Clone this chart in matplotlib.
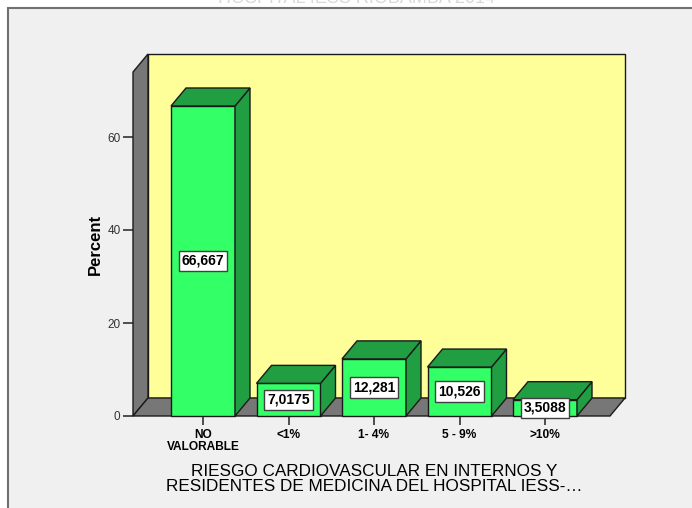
import matplotlib
matplotlib.use("Agg")
import matplotlib.pyplot as plt
from matplotlib.patches import Rectangle, Polygon

# ---- data ----
categories = ["NO\nVALORABLE", "<1%", "1- 4%", "5 - 9%", ">10%"]
percent = [66.667, 7.0175, 12.281, 10.526, 3.5088]
value_labels = ["66,667", "7,0175", "12,281", "10,526", "3,5088"]
yticks = [0, 20, 40, 60]
xlabel = "RIESGO CARDIOVASCULAR EN INTERNOS Y\nRESIDENTES DE MEDICINA DEL HOSPITAL IESS-\u2026"
ylabel = "Percent"
title = "HOSPITAL IESS RIOBAMBA 2014"

W, H = 692, 508
fig = plt.figure(figsize=(W / 100, H / 100), dpi=100)
fig.patch.set_facecolor("white")

# outer gray panel (border on left/top)
fig.patches.append(Rectangle((8 / W, -0.05), 1.1, 1.05 - 8 / H, transform=fig.transFigure,
                             facecolor="#f0f0f0", edgecolor="#707070", linewidth=1.5, zorder=-5))

fig.text(356 / W, 1 - 3 / H, title, ha="center", va="baseline", fontsize=13,
         color="#d8d8d8", family="Liberation Sans")

# front plane axes
x0p, x1p, y0p, y1p = 133, 610, 416, 72
ax = fig.add_axes([x0p / W, 1 - y0p / H, (x1p - x0p) / W, (y0p - y1p) / H])
ax.set_zorder(2)
ax.patch.set_visible(False)
for s in ax.spines.values():
    s.set_visible(False)

n = len(categories)
xpos = list(range(n))
spacing_px = 85.5
xmin = -(203 - x0p) / spacing_px
xmax = xmin + (x1p - x0p) / spacing_px
ymax = (y0p - y1p) / 4.65
ax.set_xlim(xmin, xmax)
ax.set_ylim(0, ymax)

# depth offset in data units
px_x = ax.bbox.width / (xmax - xmin)
px_y = ax.bbox.height / ymax
dx = 15 / px_x
dy = 18 / px_y

edge = "#1a1a1a"
gray = "#777777"
kw = dict(clip_on=False, linewidth=1.0, edgecolor=edge, joinstyle="miter")

# back wall
ax.add_patch(Rectangle((xmin + dx, dy), xmax - xmin, ymax, facecolor="#ffff99", zorder=1, **kw))
# left wall
ax.add_patch(Polygon([(xmin, 0), (xmin, ymax), (xmin + dx, ymax + dy), (xmin + dx, dy)],
                     closed=True, facecolor=gray, zorder=2, **kw))
# floor
ax.add_patch(Polygon([(xmin, 0), (xmax, 0), (xmax + dx, dy), (xmin + dx, dy)],
                     closed=True, facecolor=gray, zorder=2, **kw))

bw = 64 / px_x
front_c = "#33ff66"
dark_c = "#229e42"
for i, (x, v) in enumerate(zip(xpos, percent)):
    l, r = x - bw / 2, x + bw / 2
    z = 3 + i * 0.1
    ax.add_patch(Rectangle((l, 0), bw, v, facecolor=front_c, zorder=z, **kw))
    ax.add_patch(Polygon([(r, 0), (r + dx, dy), (r + dx, v + dy), (r, v)], closed=True,
                         facecolor=dark_c, zorder=z, **kw))
    ax.add_patch(Polygon([(l, v), (r, v), (r + dx, v + dy), (l + dx, v + dy)], closed=True,
                         facecolor=dark_c, zorder=z, **kw))
    ax.text(x, v / 2, value_labels[i], ha="center", va="center", fontsize=10,
            fontweight="bold", family=["Liberation Sans Narrow", "Liberation Sans"],
            color="black", zorder=10,
            bbox=dict(boxstyle="square,pad=0.22", facecolor="white", edgecolor="#404040",
                      linewidth=1.0))

ax.set_xticks(xpos)
ax.set_xticklabels(categories, fontsize=8.6, fontweight="bold", family="Liberation Sans",
                   linespacing=0.95)
ax.set_yticks(yticks)
ax.set_yticklabels([str(t) for t in yticks], fontsize=8.5, family="Liberation Sans",
                   color="#333333")
ax.tick_params(axis="x", length=6.5, width=1.2, color="#333333", pad=3)
ax.tick_params(axis="y", length=7, width=1.2, color="#333333", pad=2)

fig.text(95 / W, 1 - 244 / H, ylabel, rotation=90, ha="center", va="center", fontsize=12,
         fontweight="bold", family="Liberation Sans")
fig.text(374 / W, 1 - 479 / H, xlabel, ha="center", va="center", fontsize=12.3,
         family="Liberation Sans", linespacing=1.02)

fig.savefig("out.png", dpi=100)
